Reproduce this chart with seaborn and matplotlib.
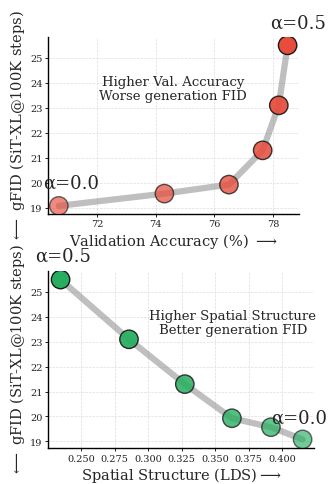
import matplotlib
matplotlib.use("Agg")
import matplotlib.pyplot as plt
import seaborn as sns
import pandas as pd

# Data
val_acc = [70.7, 74.3, 76.5, 77.65, 78.2, 78.5]
lds = [0.4152, 0.3916, 0.3625, 0.3274, 0.2858, 0.2348]
gfid = [19.08, 19.57, 19.93, 21.3, 23.1, 25.5]
point_alpha = [0.65, 0.72, 0.79, 0.86, 0.93, 1.0]
yticks = [19, 20, 21, 22, 23, 24, 25]
xticks_top = [72, 74, 76, 78]
xticks_bot = [0.250, 0.275, 0.300, 0.325, 0.350, 0.375, 0.400]

sns.set_style("ticks")
plt.rcParams["font.family"] = ["DejaVu Serif"]
plt.rcParams["mathtext.fontset"] = "dejavuserif"

fig = plt.figure(figsize=(3.33, 4.85), dpi=100)
ax1 = fig.add_axes([0.144, 0.557, 0.754, 0.365])
ax2 = fig.add_axes([0.144, 0.074, 0.799, 0.365])

red = (231/255, 76/255, 60/255)
green = (39/255, 174/255, 96/255)


def draw(ax, x, y, base, xticks, xfmt):
    df = pd.DataFrame({"x": x, "y": y, "k": list(range(len(x)))})
    sns.lineplot(data=df, x="x", y="y", ax=ax, color="gray", linewidth=4.5,
                 alpha=0.5, sort=False, zorder=2)
    pal = {k: (base[0], base[1], base[2], a) for k, a in enumerate(point_alpha)}
    edge = [(0.1, 0.1, 0.1, a) for a in point_alpha]
    sns.scatterplot(data=df, x="x", y="y", hue="k", palette=pal, ax=ax,
                    s=175, edgecolor=edge, linewidth=1.0, legend=False, zorder=3)
    ax.set_yticks(yticks)
    ax.set_xticks(xticks)
    ax.set_xticklabels([xfmt.format(v) for v in xticks])
    ax.grid(True, linestyle="--", linewidth=0.5, color="#dddddd", zorder=0)
    ax.set_axisbelow(True)
    for s in ["top", "right"]:
        ax.spines[s].set_visible(False)
    for s in ["left", "bottom"]:
        ax.spines[s].set_color("black")
        ax.spines[s].set_linewidth(1.0)
    ax.tick_params(axis="both", labelsize=7, length=2.5, width=0.6, pad=1.5,
                   colors="black", labelcolor="#222222")
    ax.set_ylabel(r"$\longleftarrow$ gFID (SiT-XL@100K steps)", fontsize=10.5, labelpad=2)


draw(ax1, val_acc, gfid, red, xticks_top, "{:d}")
ax1.set_xlim(70.33, 78.89)
ax1.set_ylim(18.76, 25.84)
ax1.set_xlabel(r"Validation Accuracy (%) $\longrightarrow$", fontsize=10.5, labelpad=2)
ax1.text(0.996, 1.079, "α=0.5", transform=ax1.transAxes, ha="center", va="center", fontsize=13)
ax1.text(0.092, 0.175, "α=0.0", transform=ax1.transAxes, ha="center", va="center", fontsize=13)
ax1.text(0.498, 0.706, "Higher Val. Accuracy\nWorse generation FID", transform=ax1.transAxes,
         ha="center", va="center", fontsize=9.5, linespacing=1.1)

draw(ax2, lds, gfid, green, xticks_bot, "{:.3f}")
ax2.set_xlim(0.2254, 0.4237)
ax2.set_ylim(18.73, 25.84)
ax2.set_xlabel(r"Spatial Structure (LDS)$\longrightarrow$", fontsize=10.5, labelpad=2)
ax2.text(0.056, 1.085, "α=0.5", transform=ax2.transAxes, ha="center", va="center", fontsize=13)
ax2.text(0.944, 0.175, "α=0.0", transform=ax2.transAxes, ha="center", va="center", fontsize=13)
ax2.text(0.695, 0.712, "Higher Spatial Structure\nBetter generation FID", transform=ax2.transAxes,
         ha="center", va="center", fontsize=9.5, linespacing=1.1)

fig.savefig("out.png", dpi=100)
